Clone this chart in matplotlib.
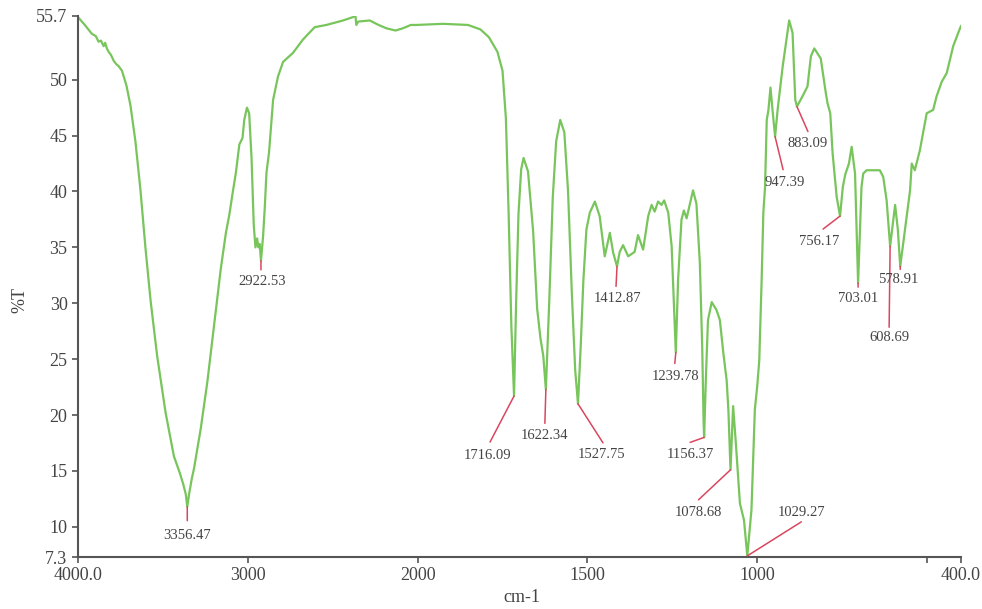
import numpy as np
import matplotlib
matplotlib.use('Agg')
import matplotlib.pyplot as plt

plt.rcParams['font.family'] = ['Liberation Serif', 'DejaVu Serif']

# spectrum (wavenumber cm-1, %T)
wavenumber = [4000, 3960, 3918, 3895, 3879, 3865, 3849, 3840, 3830, 3820, 3805, 3790, 3775, 3760,
              3741, 3715, 3691, 3662, 3632, 3603, 3573, 3534, 3484, 3435, 3400, 3380, 3365, 3356.47,
              3345, 3330, 3317, 3277, 3238, 3198, 3159, 3129, 3109, 3090, 3070, 3050, 3031, 3021,
              3005, 2992, 2978, 2965, 2955, 2945, 2938, 2930, 2922.53, 2910, 2900, 2890, 2875, 2851,
              2822, 2792, 2734, 2675, 2606, 2537, 2439, 2381, 2366, 2361, 2350, 2282, 2230, 2184,
              2130, 2087, 2040, 2008, 1925, 1852, 1815, 1790, 1765, 1750, 1740, 1732, 1724, 1716.09,
              1710, 1703, 1695, 1688, 1675, 1660, 1648, 1638, 1630, 1622.34, 1612, 1602, 1592, 1580,
              1568, 1557, 1546, 1536, 1527.75, 1520, 1512, 1503, 1493, 1478, 1464, 1449, 1434, 1424,
              1412.87, 1405, 1395, 1380, 1361, 1351, 1336, 1321, 1311, 1302, 1292, 1282, 1274, 1262,
              1252, 1239.78, 1233, 1223, 1216, 1208, 1198, 1189, 1179, 1169, 1162, 1158, 1156.37,
              1151, 1145, 1134, 1120, 1110, 1100, 1090, 1085, 1078.68, 1071, 1063, 1051, 1039,
              1029.27, 1017, 1007, 1000, 994, 987, 982, 977, 972, 967, 961, 955, 947.39, 940, 925,
              906, 896, 888, 883.09, 867, 852, 842, 832, 813, 798, 793, 785, 778, 766, 756.17, 748,
              741, 730, 722, 712, 703.01, 693, 688, 678, 639, 629, 619, 608.69, 594, 586, 578.91,
              565, 550, 545, 536, 521, 501, 482, 472, 457, 442, 423, 403, 400]
transmittance = [55.6, 54.9, 54.1, 53.9, 53.4, 53.5, 53.0, 53.3, 52.8, 52.5, 52.2, 51.7, 51.4, 51.2,
                 50.8, 49.5, 47.7, 44.5, 40.1, 35.0, 30.3, 25.3, 20.2, 16.3, 14.8, 13.8, 12.9, 11.8,
                 13.0, 14.3, 15.2, 18.8, 23.0, 28.1, 33.1, 36.3, 37.9, 39.8, 41.7, 44.2, 44.8, 46.4,
                 47.5, 47.0, 43.0, 37.0, 35.0, 35.8, 35.0, 35.3, 33.8, 36.0, 38.6, 41.7, 43.5, 48.2,
                 50.3, 51.6, 52.4, 53.6, 54.7, 54.9, 55.3, 55.6, 55.7, 54.9, 55.2, 55.3, 54.9, 54.6,
                 54.4, 54.6, 54.9, 54.9, 55.0, 54.9, 54.5, 53.8, 52.5, 50.8, 46.5, 38.0, 28.0, 21.7,
                 30.0, 38.0, 42.0, 43.0, 41.8, 36.5, 29.5, 26.8, 25.3, 22.3, 30.5, 39.5, 44.5, 46.4,
                 45.3, 40.0, 31.0, 24.0, 21.0, 26.0, 32.0, 36.6, 38.1, 39.1, 37.8, 34.2, 36.3, 34.5,
                 33.3, 34.6, 35.2, 34.2, 34.6, 36.1, 34.8, 37.8, 38.8, 38.2, 39.1, 38.8, 39.2, 38.1,
                 35.1, 25.6, 32.1, 37.5, 38.3, 37.6, 38.9, 40.1, 38.9, 33.6, 26.1, 19.5, 18.0,
                 23.5, 28.5, 30.1, 29.4, 28.5, 25.6, 23.1, 20.5, 15.1, 20.8, 17.5, 12.1, 10.6,
                 7.4, 11.5, 20.5, 22.6, 24.9, 32.1, 38.1, 40.4, 46.4, 47.3, 49.3, 47.3, 44.9, 47.3, 51.2,
                 55.3, 54.2, 48.2, 47.6, 48.5, 49.4, 52.1, 52.8, 51.9, 48.8, 47.9, 47.0, 43.4, 39.5, 37.8, 40.4,
                 41.5, 42.5, 44.0, 41.6, 31.8, 40.4, 41.6, 41.9, 41.9, 41.3, 39.2, 35.1, 38.8, 36.6, 33.3,
                 36.6, 40.1, 42.5, 41.9, 43.7, 47.0, 47.3, 48.5, 49.8, 50.6, 53.0, 54.6, 54.8]

peak_labels = ['3356.47', '2922.53', '1716.09', '1622.34', '1527.75', '1412.87', '1239.78',
               '1156.37', '1078.68', '1029.27', '947.39', '883.09', '756.17', '703.01',
               '608.69', '578.91']

xtick_vals = [4000, 3000, 2000, 1500, 1000, 500, 400]
xtick_text = ['4000.0', '3000', '2000', '1500', '1000', '', '400.0']
ytick_vals = [7.3, 10, 15, 20, 25, 30, 35, 40, 45, 50, 55.7]
ytick_text = ['7.3', '10', '15', '20', '25', '30', '35', '40', '45', '50', '55.7']

# leader line end and label centre, in pixels from the peak point
line_off = [(0, -14), (0, -9), (-24, -46), (-1, -34), (25, -39), (-1, -20), (-1, -11),
            (-14, -5), (-32, -30), (54, 34), (8, -33), (11, -25), (-17, -13), (0, -4),
            (-1, -81), (0, -3)]
text_off = [(0, -29), (1, -21), (-27, -59), (-1, -46), (24, -51), (0, -32), (0, -24),
            (-14, -17), (-32, -43), (54, 43), (10, -46), (11, -37), (-21, -25), (0, -15),
            (-1, -91), (-2, -13)]


def fwd(x):
    x = np.asarray(x, dtype=float)
    return np.where(x >= 2000, x, 2 * x - 2000)


def inv(v):
    v = np.asarray(v, dtype=float)
    return np.where(v >= 2000, v, (v + 2000) / 2)


fig = plt.figure(figsize=(9.82, 6.09), dpi=100)
ax = fig.add_axes([78 / 982, 1 - 557 / 609, (961 - 78) / 982, (557 - 16) / 609])
ax.set_xscale('function', functions=(fwd, inv))
ax.plot(wavenumber, transmittance, color='#78c55c', lw=1.6)
ax.set_xlim(4000, 400)
ax.set_ylim(7.3, 55.7)

grey = '#555555'
red = '#d9475f'
wn_asc = np.array(wavenumber)[::-1]
t_asc = np.array(transmittance)[::-1]
for lab, lo, to in zip(peak_labels, line_off, text_off):
    x0 = float(lab)
    y0 = float(np.interp(x0, wn_asc, t_asc))
    ax.annotate('', xy=(x0, y0), xytext=lo, textcoords='offset pixels',
                arrowprops=dict(arrowstyle='-', color=red, lw=1.1, shrinkA=0, shrinkB=0))
    ax.annotate(lab, xy=(x0, y0), xytext=to, textcoords='offset pixels',
                ha='center', va='center', fontsize=10.5, color='#444444')

ax.set_xticks(xtick_vals)
ax.set_xticklabels(xtick_text)
ax.minorticks_off()
ax.set_yticks(ytick_vals)
ax.set_yticklabels(ytick_text)
ax.tick_params(colors=grey, labelcolor='#444444', labelsize=13, length=4, width=1.2)
for s in ['top', 'right']:
    ax.spines[s].set_visible(False)
for s in ['left', 'bottom']:
    ax.spines[s].set_color(grey)
    ax.spines[s].set_linewidth(1.5)

fig.text(20 / 982, 1 - 300 / 609, '%T', rotation=90, ha='center', va='center',
         fontsize=13, color='#444444')
fig.text(522 / 982, 1 - 597 / 609, 'cm-1', ha='center', va='center',
         fontsize=13, color='#444444')

fig.savefig('out.png', dpi=100)
